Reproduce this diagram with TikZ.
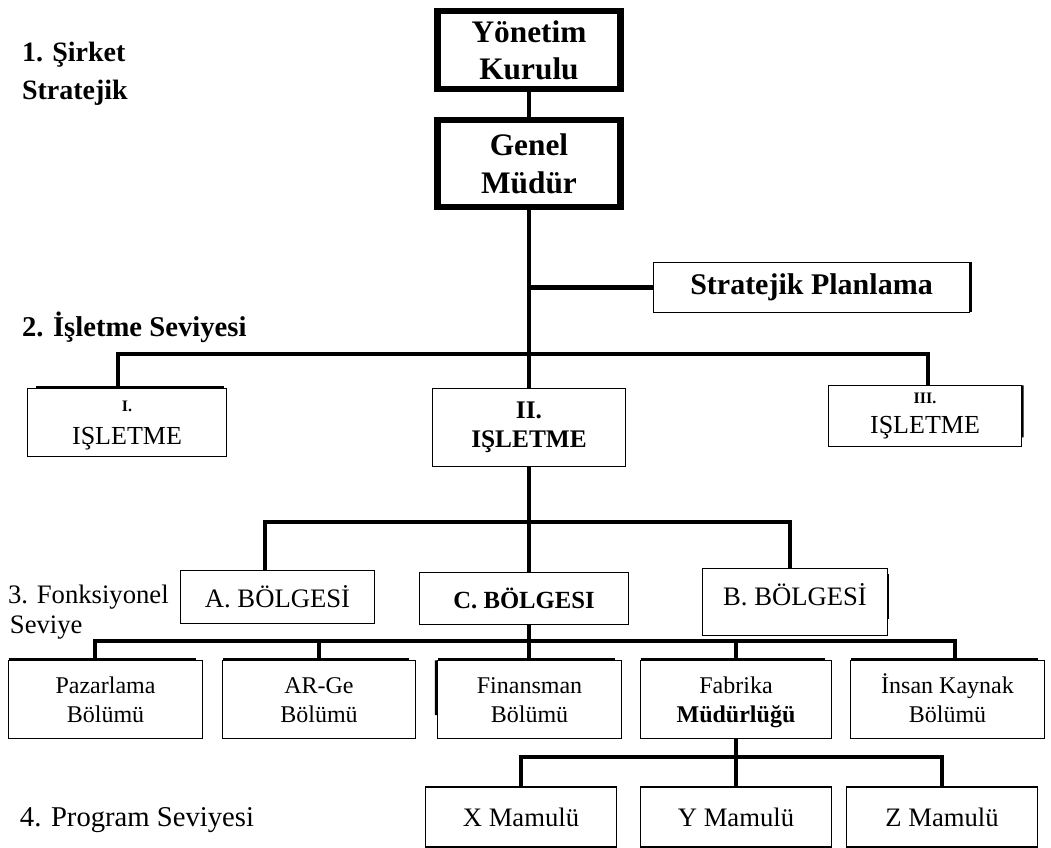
\documentclass[tikz,border=0pt]{standalone}
\usepackage{fontspec}
\setmainfont{Liberation Serif}
\usetikzlibrary{calc}
\newcommand{\fsz}[2]{\fontsize{#1}{#2}\selectfont}
\def\pxu{0.75pt}
\begin{document}
\begin{tikzpicture}[x=0.75pt,y=-0.75pt,
  every node/.style={inner sep=0pt, outer sep=0pt},
  conn/.style={line width=3.6pt, line join=miter},
  heavybox/.style={draw, line width=4.8pt, fill=white, align=center,
    font=\fsz{23.5}{27.5}\bfseries},
  thinbox/.style={draw, line width=1.1pt, fill=white, align=center},
  edgeline/.style={line width=2.2pt},
  lbl/.style={anchor=base west},
  unitbox/.style={thinbox, minimum width=193*\pxu, minimum height=78*\pxu,
    font=\fsz{18}{21.8}, text height=34pt, text depth=0pt},
  prodbox/.style={thinbox, minimum width=191*\pxu, minimum height=60*\pxu,
    font=\fsz{20}{24}},
]
\useasboundingbox (0,0) rectangle (1051,848);

% level labels
\node[lbl, font=\fsz{21}{25}\bfseries] (l1a) at (22,62) {1. Şirket};
\node[lbl, font=\fsz{21}{25}\bfseries] (l1b) at (22,100) {Stratejik};
\node[lbl, font=\fsz{21.5}{25}\bfseries] (l2) at (22,337) {2. İşletme Seviyesi};
\node[lbl, font=\fsz{20}{24}] (l3a) at (8,604) {3. Fonksiyonel};
\node[lbl, font=\fsz{20}{24}] (l3b) at (10,634) {Seviye};
\node[lbl, font=\fsz{21.5}{25}] (l4) at (20,826) {4. Program Seviyesi};

% top management
\node[heavybox, minimum width=183*\pxu, minimum height=78*\pxu] (yk) at (529,50) {Yönetim\\Kurulu};
\node[heavybox, minimum width=183*\pxu, minimum height=87*\pxu, font=\fsz{23.5}{28.5}\bfseries] (gm) at (529,163.5) {Genel\\Müdür};
\node[thinbox, minimum width=316*\pxu, minimum height=50*\pxu, font=\fsz{22.5}{26}\bfseries] (sp) at (811.5,287.5) {Stratejik Planlama};

% business units
\node[thinbox, minimum width=199*\pxu, minimum height=68*\pxu, font=\fsz{19.5}{25}, text depth=0pt] (I) at (127,422.5) {{\fsz{12}{14}\bfseries I.}\\IŞLETME};
\node[thinbox, minimum width=193*\pxu, minimum height=78*\pxu, font=\fsz{19}{22}\bfseries] (II) at (529,427.5) {II.\\IŞLETME};
\node[thinbox, minimum width=193*\pxu, minimum height=61*\pxu, font=\fsz{19.5}{22}] (III) at (925,416) {{\fsz{12}{14}\bfseries III.}\\IŞLETME};

% regions
\node[thinbox, minimum width=194*\pxu, minimum height=53*\pxu, font=\fsz{20}{24}] (A) at (277.5,597) {A. BÖLGESİ};
\node[thinbox, minimum width=209*\pxu, minimum height=52*\pxu, font=\fsz{18.5}{22}\bfseries] (C) at (524,598.5) {C. BÖLGESI};
\node[thinbox, minimum width=185*\pxu, minimum height=67*\pxu, font=\fsz{20}{24}, text depth=12pt] (B) at (795,602) {B. BÖLGESİ};

% functional departments
\node[unitbox, minimum width=194*\pxu] (pz) at (105.5,699.5) {Pazarlama\\Bölümü};
\node[unitbox] (ar) at (319,699.5) {AR-Ge\\Bölümü};
\node[unitbox, minimum width=184*\pxu] (fn) at (529.5,699.5) {Finansman\\Bölümü};
\node[unitbox, minimum width=191*\pxu] (fb) at (736,699.5) {Fabrika\\\textbf{Müdürlüğü}};
\node[unitbox, minimum width=194*\pxu] (ik) at (947.5,699.5) {İnsan Kaynak\\Bölümü};

% products
\node[prodbox] (X) at (521,817) {X Mamulü};
\node[prodbox] (Y) at (736,817) {Y Mamulü};
\node[prodbox] (Z) at (942,817) {Z Mamulü};

% heavier edges on some boxes
\foreach \n in {pz,ar,fn,fb,ik}
  \draw[edgeline] ([yshift=0.8pt]\n.north west) -- ([xshift=-5pt,yshift=0.8pt]\n.north east);
\draw[edgeline] ([xshift=-0.8pt]fn.north west) -- ([xshift=-0.8pt]$(fn.north west)!0.7!(fn.south west)$);
\draw[edgeline] ([xshift=6pt,yshift=0.6pt]I.north west) -- ([xshift=-2pt,yshift=0.6pt]I.north east);
\draw[edgeline] ([xshift=0.8pt]sp.north east) -- ([xshift=0.8pt]sp.south east);
\draw[line width=1.8pt] ([xshift=0.6pt]III.north east) -- ([xshift=0.6pt]$(III.north east)!0.85!(III.south east)$);
\draw[line width=1.6pt] ([xshift=0.6pt,yshift=-4pt]B.north east) -- ([xshift=0.6pt]$(B.north east)!0.75!(B.south east)$);

% connectors
\draw[conn] (yk.south) -- (gm.north);
\draw[conn] (gm.south) -- (II.north);
\draw[conn] (sp.west) -- (sp.west -| gm.south);

\coordinate (b2L) at (118,354);
\coordinate (b2R) at (928,354);
\draw[conn] (I.north -| b2L) -- (b2L) -- (b2R) -- (III.north -| b2R);

\coordinate (b3L) at (265,522);
\coordinate (b3R) at (790,522);
\draw[conn] (A.north -| b3L) -- (b3L) -- (b3R) -- (B.north -| b3R);
\draw[conn] (II.south) -- (II.south |- C.north);

\coordinate (b4L) at (95,641);
\coordinate (b4R) at (955,641);
\draw[conn] (pz.north -| b4L) -- (b4L) -- (b4R) -- (ik.north -| b4R);
\draw[conn] (C.south -| II.south) -- (fn.north -| II.south);
\draw[conn] (ar.north) -- (ar.north |- b4L);
\draw[conn] (fb.north) -- (fb.north |- b4L);

\coordinate (b5) at (736,757);
\draw[conn] (fb.south) -- (Y.north);
\draw[conn] (X.north) -- (X.north |- b5) -- (Z.north |- b5) -- (Z.north);
\end{tikzpicture}
\end{document}
